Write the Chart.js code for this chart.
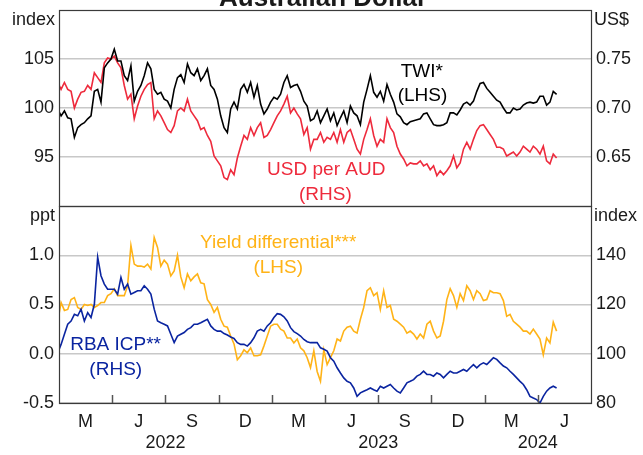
<!DOCTYPE html>
<html>
<head>
<meta charset="utf-8">
<script src="https://cdn.jsdelivr.net/npm/chart.js@4.4.1/dist/chart.umd.min.js"></script>
<style>
  html, body { margin: 0; padding: 0; background: #fff; }
  #wrap { position: relative; width: 643px; height: 455px; overflow: hidden; }
  #wrap canvas { position: absolute; left: 0; top: 0; }
</style>
</head>
<body>
<div id="wrap">
  <canvas id="topChart" width="643" height="455"></canvas>
  <canvas id="bottomChart" width="643" height="455"></canvas>
</div>
<script>
// x axis is months since Jan 2022 (0 = 1 Jan 2022, 30 = 1 Jul 2024)
// observations run from the start of Jan 2022 to early May 2024, roughly weekly
const firstObs = -0.07;
const lastObs = 28.06;

// month letters sit in the middle of each quarter, years on quarter boundaries
const quarterLabels = ['M', 'J', 'S', 'D', 'M', 'J', 'S', 'D', 'M', 'J'];
const yearLabels = ['2022', '2023', '2024'];
const yearTicks = [6, 18, 27];

// top panel
const twiTicks = [95, 100, 105];
const usdTicks = [0.65, 0.70, 0.75];
const twi = [99.9, 99.2, 99.7, 99.0, 98.9, 97.0, 98.0, 98.3, 98.5, 98.9, 99.2, 101.7, 101.9, 100.6, 104.1, 104.6, 105.0, 106.0, 104.8, 104.8,
  103.3, 102.8, 104.3, 100.7, 101.7, 102.3, 103.3, 104.6, 104.0, 101.9, 101.4, 101.6, 100.9, 100.7, 100.0, 101.9, 103.1, 103.4, 102.6, 104.5,
  103.6, 103.3, 104.0, 102.8, 103.3, 104.0, 102.3, 101.9, 100.9, 99.2, 98.0, 97.5, 99.9, 100.6, 99.9, 101.9, 102.4, 101.6, 102.6, 101.1,
  102.3, 100.4, 99.4, 99.9, 100.6, 101.1, 100.9, 101.4, 102.6, 103.3, 102.1, 102.3, 102.4, 101.7, 100.7, 100.2, 98.7, 98.9,
  99.7, 98.5, 99.2, 99.9, 98.7, 99.5, 98.2, 99.0, 99.7, 98.5, 100.2, 99.5, 99.2, 98.3, 100.6, 101.9, 103.3, 101.6, 101.1, 101.7,
  100.7, 102.4, 101.4, 100.6, 99.4, 99.1, 98.5, 98.3, 98.6, 98.7, 98.8, 98.9, 99.4, 99.5, 98.9, 98.3, 98.2, 98.2, 98.3, 98.5,
  99.5, 99.5, 99.3, 99.8, 100.4, 100.6, 100.3, 100.7, 101.7, 102.5, 102.6, 102.0, 101.6, 101.2, 100.8, 100.6, 100.0, 99.5, 99.5, 100.0,
  99.8, 99.9, 100.3, 100.5, 100.6, 100.5, 100.6, 101.2, 101.2, 100.3, 100.6, 101.7, 101.4];
const usdPerAud = [0.726, 0.719, 0.726, 0.719, 0.717, 0.700, 0.709, 0.716, 0.717, 0.723, 0.719, 0.736, 0.731, 0.726, 0.746, 0.751, 0.750, 0.753, 0.746, 0.741,
  0.723, 0.709, 0.714, 0.689, 0.702, 0.712, 0.719, 0.724, 0.726, 0.689, 0.697, 0.692, 0.685, 0.678, 0.675, 0.682, 0.697, 0.700, 0.697, 0.709,
  0.697, 0.692, 0.687, 0.678, 0.680, 0.672, 0.666, 0.651, 0.646, 0.641, 0.629, 0.627, 0.637, 0.632, 0.649, 0.661, 0.672, 0.668, 0.680, 0.672,
  0.680, 0.685, 0.670, 0.672, 0.678, 0.685, 0.692, 0.697, 0.704, 0.712, 0.695, 0.700, 0.694, 0.689, 0.673, 0.680, 0.658, 0.668,
  0.668, 0.675, 0.665, 0.670, 0.668, 0.675, 0.665, 0.678, 0.665, 0.675, 0.678, 0.668, 0.658, 0.653, 0.668, 0.678, 0.689, 0.672, 0.661, 0.668,
  0.665, 0.689, 0.680, 0.675, 0.661, 0.653, 0.648, 0.641, 0.644, 0.643, 0.643, 0.646, 0.641, 0.643, 0.637, 0.641, 0.631, 0.636, 0.632, 0.636,
  0.641, 0.651, 0.639, 0.644, 0.658, 0.665, 0.658, 0.668, 0.677, 0.682, 0.683, 0.678, 0.673, 0.668, 0.660, 0.660, 0.658, 0.651, 0.653, 0.655,
  0.651, 0.655, 0.661, 0.658, 0.655, 0.661, 0.658, 0.653, 0.661, 0.646, 0.643, 0.653, 0.649];

// bottom panel
const yieldTicks = [-0.5, 0.0, 0.5, 1.0];
const icpTicks = [80, 100, 120, 140];
const yieldDiff = [0.33, 0.52, 0.44, 0.45, 0.55, 0.57, 0.47, 0.45, 0.50, 0.49, 0.50, 0.47, 0.49, 0.52, 0.52, 0.59, 0.61, 0.66, 0.59, 0.59,
  0.59, 0.69, 1.10, 0.91, 0.89, 0.89, 0.88, 0.91, 0.86, 1.18, 1.08, 0.89, 0.95, 0.91, 0.79, 0.84, 1.00, 0.78, 0.67, 0.81,
  0.74, 0.78, 0.81, 0.72, 0.71, 0.55, 0.50, 0.42, 0.47, 0.35, 0.28, 0.27, 0.18, 0.10, -0.06, -0.02, 0.04, 0.01, 0.06, -0.02,
  -0.02, -0.01, 0.08, 0.18, 0.28, 0.30, 0.30, 0.25, 0.23, 0.16, 0.16, 0.11, 0.15, 0.06, 0.03, -0.04, -0.14, 0.03,
  -0.18, -0.28, 0.04, -0.11, -0.04, 0.03, 0.15, 0.13, 0.23, 0.27, 0.28, 0.23, 0.21, 0.35, 0.47, 0.64, 0.67, 0.59, 0.62, 0.45,
  0.64, 0.47, 0.49, 0.35, 0.33, 0.30, 0.27, 0.21, 0.23, 0.20, 0.15, 0.20, 0.16, 0.30, 0.33, 0.23, 0.16, 0.18, 0.33, 0.55,
  0.66, 0.59, 0.47, 0.61, 0.54, 0.69, 0.64, 0.55, 0.64, 0.61, 0.54, 0.55, 0.64, 0.62, 0.62, 0.61, 0.54, 0.38, 0.40, 0.33,
  0.30, 0.27, 0.23, 0.23, 0.20, 0.25, 0.20, 0.15, -0.01, 0.16, 0.11, 0.32, 0.23];
const rbaIcp = [100.4, 103.8, 107.9, 112.0, 113.3, 116.0, 115.4, 118.1, 113.3, 116.7, 114.7, 120.1, 139.2, 131.7, 128.3, 126.2, 126.2, 126.2, 124.2, 131.0,
  126.2, 128.3, 124.2, 124.9, 125.6, 125.6, 127.6, 126.2, 124.2, 118.1, 113.3, 112.6, 112.0, 111.3, 107.9, 104.5, 107.2, 107.9, 108.6, 109.9,
  110.6, 112.0, 112.0, 112.6, 113.3, 114.0, 111.3, 109.9, 109.2, 109.2, 108.2, 107.6, 106.8, 106.2, 104.5, 103.8, 103.8, 103.1, 104.5, 106.5,
  109.2, 109.9, 109.2, 111.3, 112.6, 114.7, 116.3, 116.0, 115.0, 113.3, 110.6, 109.0, 108.2, 107.2, 105.8, 104.9, 104.5, 104.5,
  104.5, 102.4, 101.8, 101.1, 98.4, 97.0, 94.3, 92.2, 90.2, 88.8, 88.2, 86.1, 82.7, 84.1, 84.8, 85.4, 86.1, 85.4, 84.8, 86.8,
  86.1, 86.8, 87.5, 86.1, 84.8, 84.1, 86.1, 88.2, 88.8, 89.5, 90.9, 91.6, 92.9, 91.6, 91.6, 90.9, 92.2, 91.6, 90.2, 91.6,
  92.9, 92.2, 92.2, 92.9, 93.6, 92.9, 94.3, 95.6, 94.3, 95.6, 96.3, 95.6, 97.0, 98.4, 97.7, 96.3, 95.0, 94.3, 92.9, 91.6,
  90.2, 88.8, 87.5, 85.4, 82.7, 82.0, 81.4, 80.0, 82.7, 84.8, 86.1, 86.8, 86.1];

const FONT = 'Arial, "Liberation Sans", sans-serif';
const TEXT = '#1a1a1a';
const GRID = '#c8c8c8';
const FRAME = '#3a3a3a';
const BLACK = '#000000';
const RED = '#ee2a3c';
const ORANGE = '#ffb317';
const BLUE = '#0a24a0';
const LEFT_W = 59;
const RIGHT_W = 52;

Chart.defaults.font.family = FONT;
Chart.defaults.font.size = 18;
Chart.defaults.color = TEXT;

function points(values) {
  const step = (lastObs - firstObs) / (values.length - 1);
  return values.map((v, i) => ({ x: firstObs + i * step, y: v }));
}

function lineSet(label, values, axis, color) {
  return { label: label, data: points(values), yAxisID: axis, borderColor: color,
    borderWidth: 1.6, pointRadius: 0, tension: 0, fill: false };
}

function yAxis(side, min, max, ticks, width, digits, withGrid) {
  return {
    position: side, min: min, max: max,
    afterBuildTicks: s => { s.ticks = ticks.map(v => ({ value: v })); },
    // fixed widths so both panels line up, and no label padding on the plot
    afterFit: s => { s.width = width; s.paddingTop = 0; s.paddingBottom = 0; },
    grid: { display: withGrid, color: GRID, lineWidth: 1.5, drawTicks: false },
    border: { display: false },
    ticks: { padding: 5, callback: v => digits === null ? String(v) : Number(v).toFixed(digits) }
  };
}

// box round each panel
const frame = {
  id: 'frame',
  afterDraw(chart) {
    const { ctx, chartArea: a } = chart;
    ctx.save();
    ctx.strokeStyle = FRAME;
    ctx.lineWidth = 1.2;
    ctx.strokeRect(Math.round(a.left) + 0.5, Math.round(a.top) + 0.5,
      Math.round(a.right - a.left), Math.round(a.bottom - a.top));
    ctx.restore();
  }
};

// units, series names and the title
const notes = {
  id: 'notes',
  afterDraw(chart, args, opts) {
    const { ctx, chartArea: a, scales } = chart;
    ctx.save();
    ctx.fillStyle = TEXT;
    ctx.font = '18px ' + FONT;
    ctx.textBaseline = 'alphabetic';
    (opts.units || []).forEach(u => {
      ctx.textAlign = u.side === 'left' ? 'right' : 'left';
      ctx.fillText(u.text, u.side === 'left' ? a.left - 4 : a.right + 3, a.top + 15);
    });
    if (opts.title) {
      ctx.font = 'bold 26px ' + FONT;
      ctx.textAlign = 'center';
      ctx.fillText(opts.title, 323, 6);
    }
    ctx.font = '19px ' + FONT;
    ctx.textAlign = 'center';
    ctx.textBaseline = 'middle';
    (opts.labels || []).forEach(n => {
      ctx.fillStyle = n.color;
      ctx.fillText(n.text, scales.x.getPixelForValue(n.x), scales[n.axis].getPixelForValue(n.y));
    });
    ctx.restore();
  }
};

// short inward tick marks on the quarter boundaries
const quarterMarks = {
  id: 'quarterMarks',
  afterDraw(chart) {
    const { ctx, chartArea: a, scales } = chart;
    ctx.save();
    ctx.strokeStyle = '#555';
    ctx.lineWidth = 1.5;
    for (let m = 3; m < 30; m += 3) {
      const px = Math.round(scales.x.getPixelForValue(m)) + 0.5;
      ctx.beginPath();
      ctx.moveTo(px, a.bottom);
      ctx.lineTo(px, a.bottom - 8);
      ctx.stroke();
    }
    ctx.restore();
  }
};

const common = {
  responsive: false,
  animation: false,
  devicePixelRatio: 1,
  events: []
};

new Chart(document.getElementById('topChart'), {
  type: 'line',
  data: { datasets: [
    lineSet('TWI', twi, 'yL', BLACK),
    lineSet('USD per AUD', usdPerAud, 'yR', RED)
  ] },
  options: Object.assign({}, common, {
    layout: { padding: { top: 10, bottom: 249, left: 0, right: 0 } },
    plugins: {
      legend: { display: false },
      tooltip: { enabled: false },
      notes: {
        title: 'Australian Dollar',
        units: [{ text: 'index', side: 'left' }, { text: 'US$', side: 'right' }],
        labels: [
          { text: 'TWI*', x: 20.46, y: 103.74, axis: 'yL', color: BLACK },
          { text: '(LHS)', x: 20.5, y: 101.2, axis: 'yL', color: BLACK },
          { text: 'USD per AUD', x: 15.07, y: 0.6374, axis: 'yR', color: RED },
          { text: '(RHS)', x: 15.02, y: 0.6119, axis: 'yR', color: RED }
        ]
      }
    },
    scales: {
      x: { type: 'linear', min: 0, max: 30, display: false },
      yL: yAxis('left', 90, 110, twiTicks, LEFT_W, null, true),
      yR: yAxis('right', 0.6, 0.8, usdTicks, RIGHT_W, 2, false)
    }
  }),
  plugins: [frame, notes]
});

new Chart(document.getElementById('bottomChart'), {
  type: 'line',
  data: { datasets: [
    lineSet('RBA ICP', rbaIcp, 'yR', BLUE),
    lineSet('Yield differential', yieldDiff, 'yL', ORANGE)
  ] },
  options: Object.assign({}, common, {
    layout: { padding: { top: 206, bottom: 0, left: 0, right: 0 } },
    plugins: {
      legend: { display: false },
      tooltip: { enabled: false },
      notes: {
        units: [{ text: 'ppt', side: 'left' }, { text: 'index', side: 'right' }],
        labels: [
          { text: 'Yield differential***', x: 12.36, y: 1.125, axis: 'yL', color: ORANGE },
          { text: '(LHS)', x: 12.36, y: 0.87, axis: 'yL', color: ORANGE },
          { text: 'RBA ICP**', x: 3.19, y: 103.8, axis: 'yR', color: BLUE },
          { text: '(RHS)', x: 3.2, y: 93.6, axis: 'yR', color: BLUE }
        ]
      }
    },
    scales: {
      x: {
        type: 'linear', min: 0, max: 30,
        afterBuildTicks: s => {
          const t = [];
          for (let k = 0; k <= 20; k++) t.push({ value: k * 1.5 });
          s.ticks = t;
        },
        afterFit: s => { s.height = 52; s.paddingLeft = 0; s.paddingRight = 0; },
        grid: { display: false, drawTicks: false },
        border: { display: false },
        ticks: {
          autoSkip: false, maxRotation: 0, minRotation: 0, padding: 8,
          callback: v => {
            const q = (v - 1.5) / 3;
            if (Number.isInteger(q)) return quarterLabels[q];
            const y = yearTicks.indexOf(v);
            return y >= 0 ? ['', yearLabels[y]] : '';
          }
        }
      },
      yL: yAxis('left', -0.5, 1.5, yieldTicks, LEFT_W, 1, true),
      yR: yAxis('right', 80, 160, icpTicks, RIGHT_W, null, false)
    }
  }),
  plugins: [frame, notes, quarterMarks]
});
</script>
</body>
</html>
